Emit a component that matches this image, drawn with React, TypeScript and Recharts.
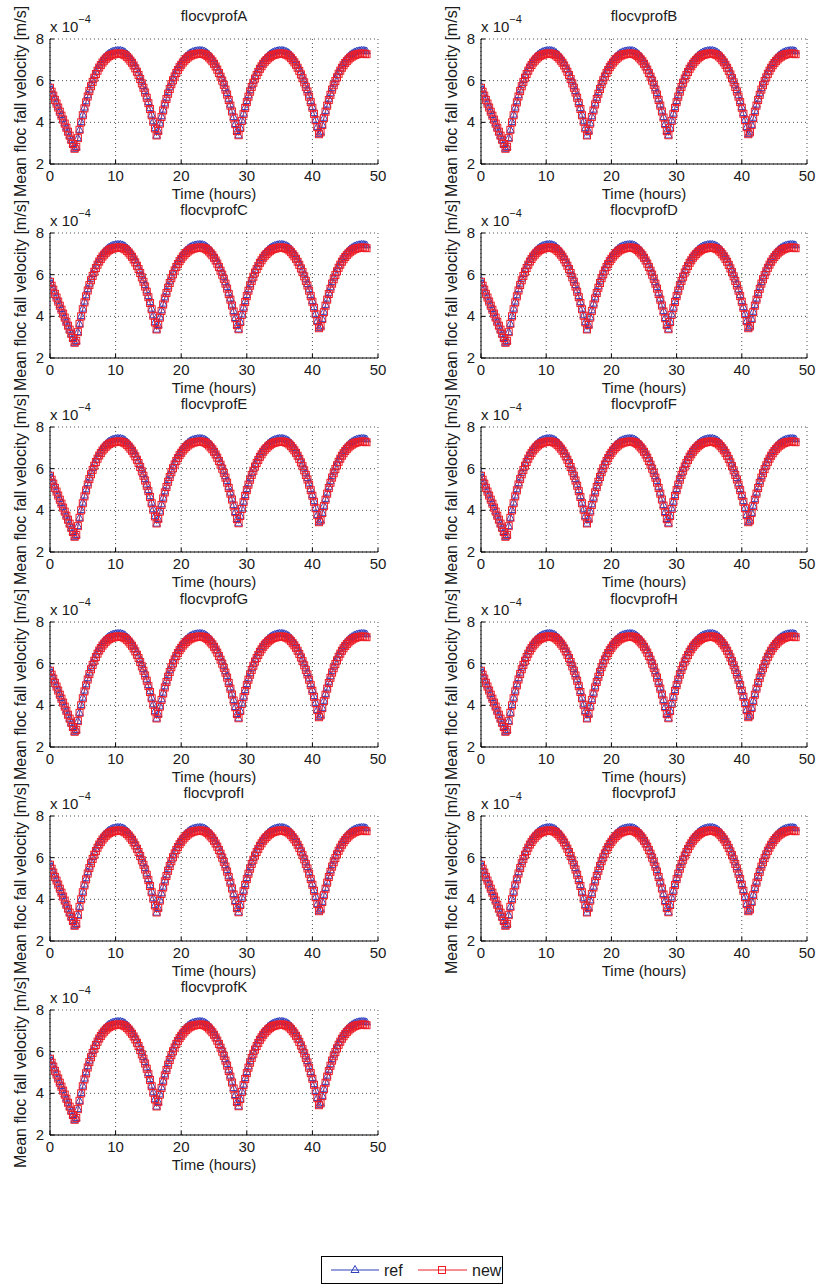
import React from 'react';
import { LineChart, Line, XAxis, YAxis, CartesianGrid, Label } from 'recharts';

// hours between saved profiles
const timeStep = 0.25;

// mean floc fall velocity, in units of 1e-4 m/s
const refVel = [
  5.75, 5.55, 5.35, 5.15, 4.96, 4.76, 4.56, 4.36, 4.16, 3.96, 3.76, 3.56, 3.37, 3.17, 2.97, 2.74,
  2.83, 3.25, 3.65, 4.03, 4.38, 4.72, 5.02, 5.31, 5.58, 5.82, 6.04, 6.25, 6.43, 6.6, 6.75, 6.88,
  7.0, 7.1, 7.19, 7.26, 7.32, 7.36, 7.4, 7.42, 7.44, 7.45, 7.45,
  7.45, 7.43, 7.4, 7.35, 7.28, 7.2, 7.1, 6.99, 6.86, 6.71, 6.55, 6.38, 6.18, 5.97, 5.75, 5.51,
  5.25, 4.98, 4.69, 4.38, 4.06, 3.73, 3.37,
  3.6, 3.96, 4.3, 4.62, 4.92, 5.19, 5.45, 5.69, 5.92, 6.12, 6.31, 6.48, 6.63, 6.77, 6.89, 7.0,
  7.1, 7.18, 7.25, 7.31, 7.35, 7.39, 7.41, 7.43, 7.44, 7.45, 7.45,
  7.44, 7.42, 7.38, 7.32, 7.25, 7.16, 7.06, 6.94, 6.8, 6.65, 6.48, 6.3, 6.1, 5.89, 5.65, 5.41,
  5.14, 4.86, 4.57, 4.26, 3.93, 3.59,
  3.38, 3.75, 4.1, 4.43, 4.74, 5.03, 5.3, 5.55, 5.79, 6.0, 6.2, 6.38, 6.54, 6.69, 6.82, 6.94,
  7.04, 7.13, 7.21, 7.27, 7.33, 7.37, 7.4, 7.42, 7.44, 7.45, 7.45,
  7.45, 7.43, 7.4, 7.36, 7.3, 7.22, 7.12, 7.01, 6.89, 6.74, 6.59, 6.41, 6.22, 6.02, 5.79, 5.56,
  5.3, 5.03, 4.75, 4.45, 4.13, 3.79, 3.44,
  3.53, 3.89, 4.23, 4.56, 4.86, 5.14, 5.4, 5.65, 5.87, 6.08, 6.27, 6.44, 6.6, 6.74, 6.87, 6.98,
  7.08, 7.16, 7.24, 7.29, 7.34, 7.38, 7.41, 7.43, 7.44, 7.45, 7.45,
  7.44, 7.42,
];

const newVel = [
  5.66, 5.47, 5.28, 5.08, 4.9, 4.71, 4.51, 4.32, 4.13, 3.94, 3.74, 3.55, 3.36, 3.16, 2.96, 2.73,
  2.82, 3.24, 3.64, 4.0, 4.34, 4.67, 4.96, 5.24, 5.5, 5.73, 5.94, 6.14, 6.32, 6.48, 6.63, 6.75,
  6.87, 6.96, 7.05, 7.12, 7.18, 7.22, 7.25, 7.27, 7.29, 7.3, 7.3,
  7.3, 7.28, 7.25, 7.21, 7.14, 7.06, 6.96, 6.86, 6.73, 6.59, 6.43, 6.27, 6.08, 5.87, 5.66, 5.43,
  5.18, 4.92, 4.64, 4.34, 4.03, 3.71, 3.37,
  3.59, 3.94, 4.26, 4.57, 4.86, 5.12, 5.37, 5.6, 5.83, 6.02, 6.2, 6.37, 6.51, 6.65, 6.76, 6.87,
  6.96, 7.04, 7.11, 7.17, 7.21, 7.25, 7.26, 7.28, 7.29, 7.3, 7.3,
  7.29, 7.27, 7.24, 7.18, 7.11, 7.02, 6.93, 6.81, 6.68, 6.53, 6.37, 6.19, 6.0, 5.8, 5.57, 5.33,
  5.07, 4.8, 4.52, 4.23, 3.91, 3.58,
  3.38, 3.73, 4.07, 4.39, 4.69, 4.97, 5.23, 5.47, 5.7, 5.9, 6.1, 6.27, 6.42, 6.57, 6.69, 6.81,
  6.91, 6.99, 7.07, 7.13, 7.19, 7.23, 7.25, 7.27, 7.29, 7.3, 7.3,
  7.3, 7.28, 7.25, 7.22, 7.16, 7.08, 6.98, 6.88, 6.76, 6.62, 6.47, 6.3, 6.12, 5.92, 5.7, 5.48,
  5.23, 4.97, 4.7, 4.41, 4.1, 3.77, 3.43,
  3.52, 3.87, 4.2, 4.51, 4.8, 5.07, 5.32, 5.57, 5.78, 5.98, 6.16, 6.33, 6.48, 6.62, 6.74, 6.85,
  6.94, 7.02, 7.1, 7.15, 7.2, 7.24, 7.26, 7.28, 7.29, 7.3, 7.3,
  7.29, 7.27,
];

const timeHours = refVel.map((_, i) => i * timeStep);

const panelTitles = [
  'flocvprofA', 'flocvprofB', 'flocvprofC', 'flocvprofD', 'flocvprofE', 'flocvprofF',
  'flocvprofG', 'flocvprofH', 'flocvprofI', 'flocvprofJ', 'flocvprofK',
];
const xTicks = [0, 10, 20, 30, 40, 50];
const yTicks = [2, 4, 6, 8];

const data = timeHours.map((t, i) => ({ t, ref: refVel[i], new: newVel[i] }));

const BLUE = '#2f3fbf';
const RED = '#ee1d26';
const INK = '#1a1a1a';
const FONT = '"Liberation Sans", Arial, Helvetica, sans-serif';

const ROW_PITCH = 194.2;
const colLeft = [50, 481];
const colWidth = [328, 326];

const triangleDot = (p: any) => {
  const { cx, cy, index } = p;
  if (cx == null || cy == null) return <g key={`tri-${index}`} />;
  return (
    <path
      key={`tri-${index}`}
      d={`M${cx},${cy - 4}L${cx + 3.8},${cy + 2.7}L${cx - 3.8},${cy + 2.7}Z`}
      fill="none"
      stroke={BLUE}
      strokeWidth={1}
    />
  );
};

const squareDot = (p: any) => {
  const { cx, cy, index } = p;
  if (cx == null || cy == null) return <g key={`sq-${index}`} />;
  return (
    <rect
      key={`sq-${index}`}
      x={cx - 3.5}
      y={cy - 3.5}
      width={7}
      height={7}
      fill="none"
      stroke={RED}
      strokeWidth={1}
    />
  );
};

const XTick = (p: any) => {
  const { x, y, payload } = p;
  return (
    <g>
      <line x1={x} x2={x} y1={y} y2={y - 4} stroke="#000" strokeWidth={1} />
      <text x={x} y={y + 17} textAnchor="middle" fontSize={15} fill={INK} fontFamily={FONT}>
        {payload.value}
      </text>
    </g>
  );
};

const YTick = (p: any) => {
  const { x, y, payload } = p;
  return (
    <g>
      <line x1={x} x2={x + 4} y1={y} y2={y} stroke="#000" strokeWidth={1} />
      <text x={x - 6} y={y + 5} textAnchor="end" fontSize={15} fill={INK} fontFamily={FONT}>
        {payload.value}
      </text>
    </g>
  );
};

const XLabel = (p: any) => {
  const vb = p.viewBox;
  return (
    <text x={vb.x + vb.width / 2} y={vb.y + 35} textAnchor="middle" fontSize={15} fill={INK} fontFamily={FONT}>
      Time (hours)
    </text>
  );
};

const YLabel = (p: any) => {
  const vb = p.viewBox;
  const cx = vb.x + 20;
  const cy = vb.y + vb.height / 2;
  return (
    <text
      x={cx}
      y={cy}
      transform={`rotate(-90, ${cx}, ${cy})`}
      textAnchor="middle"
      dominantBaseline="central"
      fontSize={16}
      fill={INK}
      fontFamily={FONT}
    >
      Mean floc fall velocity [m/s]
    </text>
  );
};

function Panel({ title, idx }: { title: string; idx: number }) {
  const col = idx % 2;
  const row = Math.floor(idx / 2);
  const plotLeft = colLeft[col];
  const plotW = colWidth[col];
  const plotTop = 39 + row * ROW_PITCH;
  const width = 50 + plotW + 15;

  return (
    <div style={{ position: 'absolute', left: plotLeft - 50, top: plotTop - 40, width, height: 210 }}>
      <LineChart width={width} height={210} data={data} margin={{ top: 40, right: 15, bottom: 0, left: 0 }}>
        <CartesianGrid stroke="#000" strokeDasharray="1 3" strokeWidth={0.7} />
        <XAxis
          type="number"
          dataKey="t"
          domain={[0, 50]}
          ticks={xTicks}
          interval={0}
          tickSize={0}
          tickMargin={0}
          tick={XTick}
          axisLine={{ stroke: '#000', strokeWidth: 1 }}
          height={45}
          allowDataOverflow
        >
          <Label content={XLabel} />
        </XAxis>
        <YAxis
          type="number"
          domain={[2, 8]}
          ticks={yTicks}
          interval={0}
          tickSize={0}
          tickMargin={0}
          tick={YTick}
          axisLine={{ stroke: '#000', strokeWidth: 1 }}
          width={50}
          allowDataOverflow
        >
          <Label content={YLabel} />
        </YAxis>
        <Line
          type="linear"
          dataKey="ref"
          stroke={BLUE}
          strokeWidth={0.8}
          dot={triangleDot}
          activeDot={false}
          isAnimationActive={false}
        />
        <Line
          type="linear"
          dataKey="new"
          stroke={RED}
          strokeWidth={0.8}
          dot={squareDot}
          activeDot={false}
          isAnimationActive={false}
        />
      </LineChart>
      <svg
        width={width}
        height={40}
        style={{ position: 'absolute', left: 0, top: 0, pointerEvents: 'none' }}
      >
        <text x={50 + plotW / 2} y={22} textAnchor="middle" fontSize={15} fill={INK} fontFamily={FONT}>
          {title}
        </text>
        <text x={50} y={33} fontSize={15} fill={INK} fontFamily={FONT}>
          x 10
          <tspan fontSize={11} dy={-9}>
            −4
          </tspan>
        </text>
      </svg>
    </div>
  );
}

function LegendBox() {
  return (
    <svg width={182} height={28} style={{ position: 'absolute', left: 321, top: 1256 }}>
      <rect x={0.5} y={0.5} width={181} height={27} fill="#fff" stroke="#000" strokeWidth={1} />
      <line x1={10} x2={58} y1={14} y2={14} stroke={BLUE} strokeWidth={1} />
      <path d="M34,9.5L38,16.5L30,16.5Z" fill="none" stroke={BLUE} strokeWidth={1} />
      <text x={63} y={20} fontSize={16} fill={INK} fontFamily={FONT}>
        ref
      </text>
      <line x1={97} x2={146} y1={14} y2={14} stroke={RED} strokeWidth={1} />
      <rect x={117.5} y={10.5} width={7} height={7} fill="none" stroke={RED} strokeWidth={1} />
      <text x={151} y={20} fontSize={16} fill={INK} fontFamily={FONT}>
        new
      </text>
    </svg>
  );
}

export default function App() {
  return (
    <div
      style={{
        position: 'absolute',
        left: 0,
        top: 0,
        width: 817,
        height: 1285,
        background: '#fff',
        fontFamily: FONT,
        overflow: 'hidden',
      }}
    >
      {panelTitles.map((title, i) => (
        <Panel key={title} title={title} idx={i} />
      ))}
      <LegendBox />
    </div>
  );
}
